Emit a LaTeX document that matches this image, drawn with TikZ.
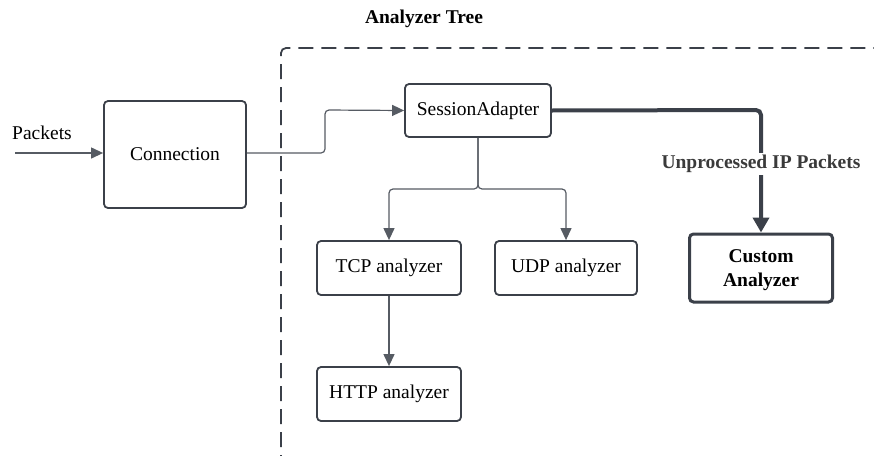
\documentclass[tikz,border=0pt]{standalone}
\usepackage{fontspec}
\setmainfont{Liberation Serif}
\usetikzlibrary{arrows.meta}
\definecolor{edge}{HTML}{3B4049}
\definecolor{thinedge}{HTML}{565B63}
\definecolor{labelgray}{HTML}{3A3A3A}
\tikzset{
  x=1pt, y=-1pt,
  every node/.style={font=\fontsize{19.5}{23}\selectfont, inner sep=0pt},
  block/.style={draw=edge, line width=1.8pt, rounded corners=4pt, fill=white, align=center},
  bigblock/.style={block, line width=3pt, font=\fontsize{19.5}{24}\selectfont\bfseries, text depth=0pt},
  flow/.style={draw=thinedge, line width=1.2pt, rounded corners=4pt,
    -{Triangle[length=12pt,width=11pt]}},
  heavyflow/.style={draw=edge, line width=4pt, rounded corners=5pt,
    -{Triangle[length=15pt,width=16pt]}},
  frame/.style={draw=edge, line width=1.8pt, dash pattern=on 15pt off 8pt, rounded corners=5pt}
}
\begin{document}
\begin{tikzpicture}
\useasboundingbox (0,0) rectangle (874,455);

% dashed boundary of the analyzer tree
\path[frame] (281,470) -- (281,48) -- (890,48);
\node[font=\fontsize{19.5}{23}\selectfont\bfseries] (title) at (424,19) {Analyzer Tree};

% boxes
\node[block, minimum width=142pt, minimum height=107pt] (conn) at (175,154.5) {Connection};
\node[block, minimum width=146pt, minimum height=53pt] (sa) at (478,110.5) {SessionAdapter};
\node[block, minimum width=144pt, minimum height=54pt] (tcp) at (389,268) {TCP analyzer};
\node[block, minimum width=142pt, minimum height=54pt] (udp) at (566,268) {UDP analyzer};
\node[block, minimum width=144pt, minimum height=54pt] (http) at (389,394) {HTTP analyzer};
\node[bigblock, minimum width=143pt, minimum height=68pt] (custom) at (761,268) {Custom\\Analyzer};

% incoming packets
\coordinate (src) at (15,153);
\node (pk) at (42,133) {Packets};
\draw[flow] (src) -- (conn.west |- src);

% connection to session adapter
\draw[flow] (conn.east |- src) -- (325,153) -- (325,110) -- (sa.west);

% session adapter fans out to the transport analyzers
\draw[flow] (sa.south) -- (478,189) -- (tcp.north |- 0,189) -- (tcp.north);
\draw[flow] (sa.south) -- (478,189) -- (udp.north |- 0,189) -- (udp.north);
\draw[flow] (tcp.south) -- (http.north);

% unprocessed packets go to the custom analyzer
\draw[heavyflow] (sa.east) -- (761,110) -- (custom.north);
\node[fill=white, inner sep=2pt, text=labelgray, font=\fontsize{19.5}{23}\selectfont\bfseries] (lbl) at (761,164) {Unprocessed IP Packets};
\end{tikzpicture}
\end{document}
